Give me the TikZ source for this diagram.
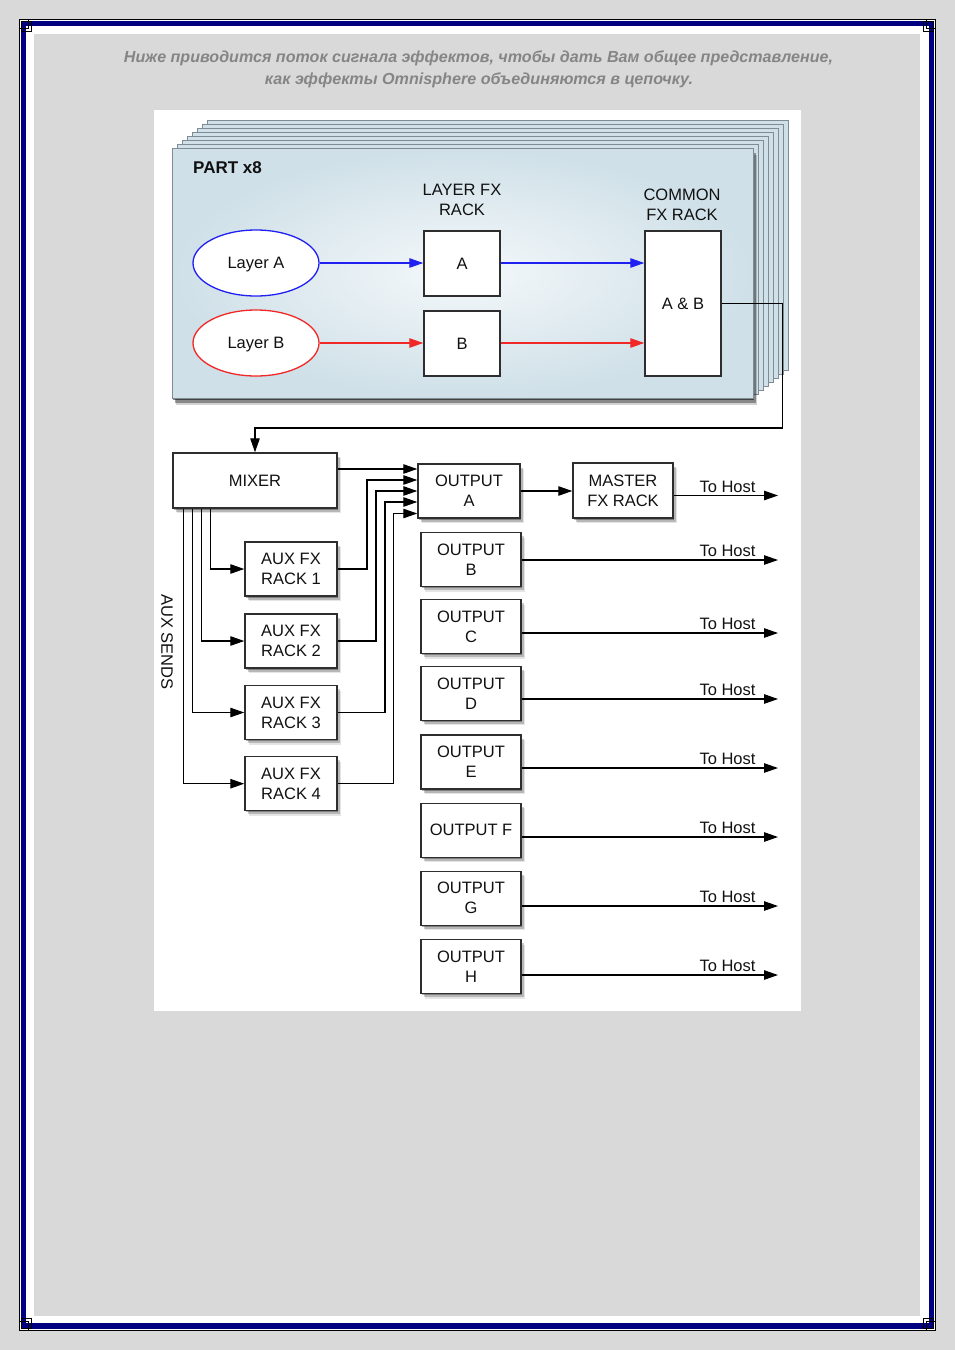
\documentclass[tikz,border=0pt]{standalone}
\usepackage{fontspec}
\setmainfont{Liberation Sans}
\usepackage{graphicx}
\usetikzlibrary{arrows.meta,shapes.geometric,shadows}
\definecolor{pagegrey}{HTML}{D9D9D9}
\definecolor{framenavy}{HTML}{000080}
\definecolor{hdrgrey}{HTML}{858585}
\definecolor{panelfill}{HTML}{CFE0E8}
\definecolor{panelin}{HTML}{F4F8FA}
\definecolor{paneledge}{HTML}{7F8C93}
\definecolor{boxedge}{HTML}{2E2E2E}
\definecolor{txt}{HTML}{111111}
\definecolor{blueline}{HTML}{2020F0}
\definecolor{redline}{HTML}{F02828}
\begin{document}
\begin{tikzpicture}[x=1pt,y=-1pt,
  every node/.style={text=txt},
  lbl/.style={font=\fontsize{16.5}{20}\selectfont, align=center, inner sep=0pt},
  box/.style={lbl, draw=boxedge, line width=1.5pt, fill=white},
  shd/.style={drop shadow={shadow xshift=1pt,shadow yshift=-1.5pt,opacity=.3,fill=black},
              drop shadow={shadow xshift=2.5pt,shadow yshift=-3.5pt,opacity=.2,fill=black},
              drop shadow={shadow xshift=3.5pt,shadow yshift=-5pt,opacity=.1,fill=black}},
  arr/.style={draw=black, line width=1.1pt, -{Triangle[length=14pt,width=9.5pt]}},
  bluearr/.style={draw=blueline, line width=1.1pt, -{Triangle[length=14pt,width=9.5pt]}},
  redarr/.style={draw=redline, line width=1.1pt, -{Triangle[length=14pt,width=9.5pt]}},
  host/.style={lbl, font=\fontsize{16.5}{19}\selectfont, anchor=south east, xshift=-22pt, yshift=2.5pt},
  layer/.style={lbl, ellipse, line width=1.3pt, fill=white, minimum width=126pt, minimum height=66pt, text depth=0pt},
  hdr/.style={font=\fontsize{16}{18}\selectfont\bfseries\itshape, text=hdrgrey, inner sep=0pt}
]
% page and frame
\fill[pagegrey] (0,0) rectangle (955,1350);
\useasboundingbox (0,0) rectangle (955,1350);
\fill[white] (19.5,19.5) rectangle (935,1330);
\draw[framenavy, line width=5.3pt] (23.3,23.3) rectangle (931.2,1326);
\fill[pagegrey] (34,34) rectangle (920,1316);
\draw[black, line width=0.8pt] (19.5,19.5) rectangle (935,1330);
\foreach \cx/\cy/\dx/\dy in {19.5/19.5/1/1, 935/19.5/-1/1, 19.5/1330/1/-1, 935/1330/-1/-1}{
  \draw[black, line width=0.8pt] (\cx,\cy) rectangle (\cx+9*\dx,\cy+9*\dy);
  \draw[black, line width=0.8pt] (\cx+2*\dx,\cy+2*\dy) rectangle (\cx+12*\dx,\cy+12*\dy);
}
% header
\node[hdr] (hdr1) at (478.5,58.5)
  {\resizebox{709pt}{\height}{Ниже приводится поток сигнала эффектов, чтобы дать Вам общее представление,}};
\node[hdr] (hdr2) at (479,80.5)
  {\resizebox{428pt}{\height}{как эффекты Omnisphere объединяются в цепочку.}};
% diagram sheet
\fill[white] (154,110) rectangle (801,1011);
% PART stack
\foreach \i in {7,6,...,1}{
  \draw[paneledge, fill=panelfill, line width=0.7pt] (172+5*\i,148-4*\i) rectangle (753+5*\i,398-4*\i);
}
\shadedraw[draw=paneledge, line width=0.8pt, inner color=panelin, outer color=panelfill,
  drop shadow={shadow xshift=1pt,shadow yshift=-2pt,opacity=.5,fill=black},
  drop shadow={shadow xshift=2.5pt,shadow yshift=-4.5pt,opacity=.35,fill=black},
  drop shadow={shadow xshift=4pt,shadow yshift=-7pt,opacity=.18,fill=black}] (172,148) rectangle (753,398);
\node[lbl, anchor=west, font=\fontsize{17}{20}\selectfont\bfseries] (part) at (193,168) {PART x8};
\node[lbl] (lfxt) at (462,200) {LAYER FX\\RACK};
\node[lbl] (cfxt) at (682,205) {COMMON\\FX RACK};
\node[layer, draw=blueline] (la) at (256,263) {Layer A};
\node[layer, draw=redline] (lb) at (256,343) {Layer B};
\node[box, minimum width=76pt, minimum height=65pt] (ba) at (462,263.5) {A};
\node[box, minimum width=76pt, minimum height=65pt] (bb) at (462,343.5) {B};
\node[box, minimum width=76pt, minimum height=145pt] (ab) at (683,303.5) {A \& B};
\draw[bluearr] (la.east) -- (la.east -| ba.west);
\draw[bluearr] (ba.east |- la.east) -- (la.east -| ab.west);
\draw[redarr] (lb.east) -- (lb.east -| bb.west);
\draw[redarr] (bb.east |- lb.east) -- (lb.east -| ab.west);
% lower section
\node[box, shd, minimum width=164pt, minimum height=55pt] (mixer) at (255,480.5) {MIXER};
\node[box, shd, minimum width=92pt, minimum height=54pt] (aux1) at (291,569) {AUX FX\\RACK 1};
\node[box, shd, minimum width=92pt, minimum height=54pt] (aux2) at (291,641) {AUX FX\\RACK 2};
\node[box, shd, minimum width=92pt, minimum height=54pt] (aux3) at (291,712.5) {AUX FX\\RACK 3};
\node[box, shd, minimum width=92pt, minimum height=54pt] (aux4) at (291,783.7) {AUX FX\\RACK 4};
\node[lbl, rotate=-90] (auxs) at (167,642) {AUX SENDS};
\node[box, shd, minimum width=102pt, minimum height=54pt] (outA) at (469,491) {OUTPUT\\A};
\node[box, shd, minimum width=100pt, minimum height=55pt] (master) at (623,490.5) {MASTER\\FX RACK};
\node[box, shd, minimum width=100pt, minimum height=54pt] (outB) at (471,559.7) {OUTPUT\\B};
\node[box, shd, minimum width=100pt, minimum height=54pt] (outC) at (471,626.7) {OUTPUT\\C};
\node[box, shd, minimum width=100pt, minimum height=54pt] (outD) at (471,693.3) {OUTPUT\\D};
\node[box, shd, minimum width=100pt, minimum height=54pt] (outE) at (471,762) {OUTPUT\\E};
\node[box, shd, minimum width=100pt, minimum height=54pt] (outF) at (471,830.3) {OUTPUT F};
\node[box, shd, minimum width=100pt, minimum height=54pt] (outG) at (471,898.3) {OUTPUT\\G};
\node[box, shd, minimum width=100pt, minimum height=54pt] (outH) at (471,966.7) {OUTPUT\\H};
% common FX rack to mixer
\coordinate (c1) at (782.5,428);
\draw[arr] (ab.east) -| (c1) -| (mixer.north);
% aux sends
\coordinate (s1) at (210.7,0);
\coordinate (s2) at (201.3,0);
\coordinate (s3) at (192.3,0);
\coordinate (s4) at (183.3,0);
\draw[arr] (mixer.south -| s1) |- (aux1.west);
\draw[arr] (mixer.south -| s2) |- (aux2.west);
\draw[arr] (mixer.south -| s3) |- (aux3.west);
\draw[arr] (mixer.south -| s4) |- (aux4.west);
% returns to output A
\coordinate (m0) at (400,469);
\coordinate (r1) at (367,480);
\coordinate (r2) at (376,491);
\coordinate (r3) at (385,502);
\coordinate (r4) at (393.5,513.5);
\draw[arr] (mixer.east |- m0) -- (outA.west |- m0);
\draw[arr] (aux1.east) -| (r1) -- (r1 -| outA.west);
\draw[arr] (aux2.east) -| (r2) -- (r2 -| outA.west);
\draw[arr] (aux3.east) -| (r3) -- (r3 -| outA.west);
\draw[arr] (aux4.east) -| (r4) -- (r4 -| outA.west);
\draw[arr] (outA.east) -- (outA.east -| master.west);
% to host
\coordinate (hA) at (778,495.5);
\coordinate (hB) at (778,560);
\coordinate (hC) at (778,633);
\coordinate (hD) at (778,699);
\coordinate (hE) at (778,768);
\coordinate (hF) at (778,837);
\coordinate (hG) at (778,906);
\coordinate (hH) at (778,975);
\draw[arr] (master.east |- hA) -- (hA) node[host] (tA) {To Host};
\draw[arr] (outB.east |- hB) -- (hB) node[host] (tB) {To Host};
\draw[arr] (outC.east |- hC) -- (hC) node[host] (tC) {To Host};
\draw[arr] (outD.east |- hD) -- (hD) node[host] (tD) {To Host};
\draw[arr] (outE.east |- hE) -- (hE) node[host] (tE) {To Host};
\draw[arr] (outF.east |- hF) -- (hF) node[host] (tF) {To Host};
\draw[arr] (outG.east |- hG) -- (hG) node[host] (tG) {To Host};
\draw[arr] (outH.east |- hH) -- (hH) node[host] (tH) {To Host};
\end{tikzpicture}
\end{document}
